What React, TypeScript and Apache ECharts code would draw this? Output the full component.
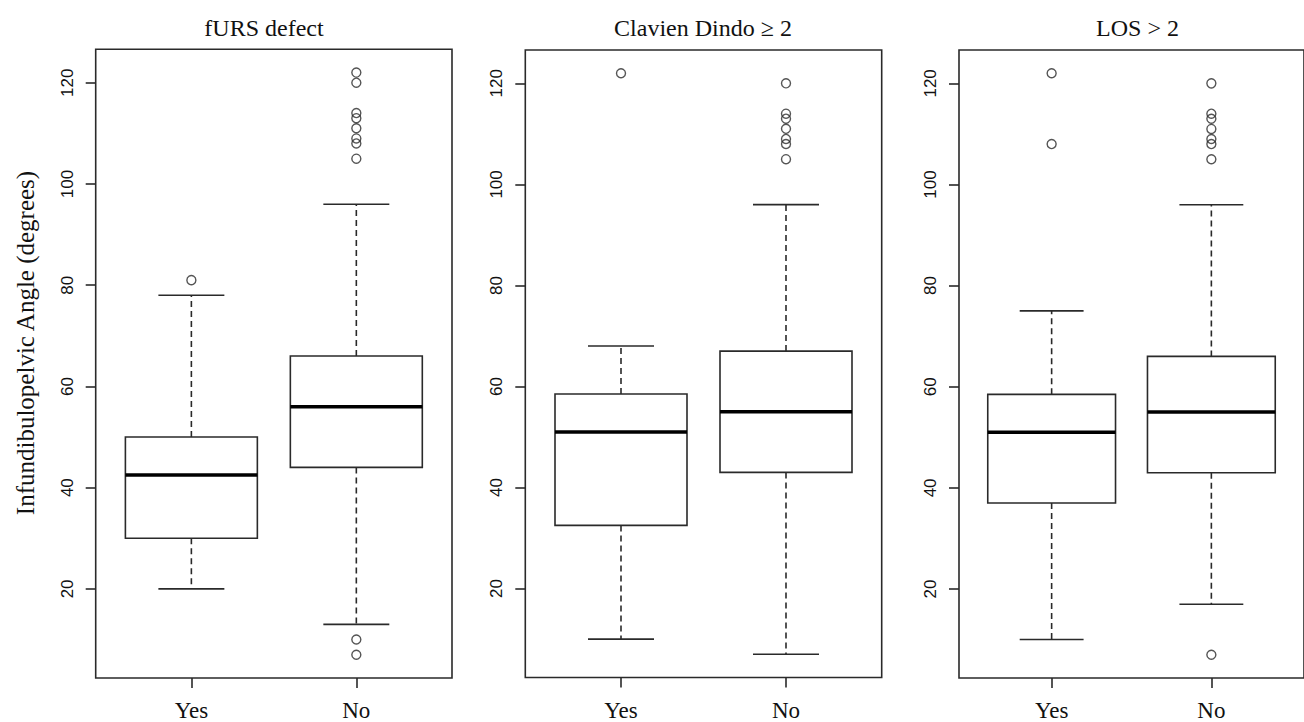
import React, { useEffect, useRef } from "react";
import * as echarts from "echarts";

const categories = ["Yes", "No"];
const panelTitles = ["fURS defect", "Clavien Dindo \u2265 2", "LOS > 2"];
const yTicks = [20, 40, 60, 80, 100, 120];
const yAxisTitle = "Infundibulopelvic Angle (degrees)";

// [lowerWhisker, Q1, median, Q3, upperWhisker] for Yes, No
const fursBoxes = [
  [20, 30, 42.5, 50, 78],
  [13, 44, 56, 66, 96],
];
const fursOutliersYes = [81];
const fursOutliersNo = [122, 120, 114, 113, 111, 109, 108, 105, 10, 7];

const clavienBoxes = [
  [10, 32.5, 51, 58.5, 68],
  [7, 43, 55, 67, 96],
];
const clavienOutliersYes = [122];
const clavienOutliersNo = [120, 114, 113, 111, 109, 108, 105];

const losBoxes = [
  [10, 37, 51, 58.5, 75],
  [17, 43, 55, 66, 96],
];
const losOutliersYes = [122, 108];
const losOutliersNo = [120, 114, 113, 111, 109, 108, 105, 7];

const panels = [
  { boxes: fursBoxes, outYes: fursOutliersYes, outNo: fursOutliersNo },
  { boxes: clavienBoxes, outYes: clavienOutliersYes, outNo: clavienOutliersNo },
  { boxes: losBoxes, outYes: losOutliersYes, outNo: losOutliersNo },
];

const LINE = "#2a2a2a";
const TEXT = "#111";
const gridsPx = [
  { left: 95.7, top: 49.3, width: 356.3, height: 629 },
  { left: 525.3, top: 50, width: 356.4, height: 627.5 },
  { left: 959, top: 50, width: 356, height: 628.5 },
];
const titleX = [264, 703, 1137.5];

export default function App() {
  const ref = useRef<HTMLDivElement>(null);
  useEffect(() => {
    if (!ref.current) return;
    const chart = echarts.init(ref.current, undefined, { renderer: "svg" });

    const grid = gridsPx.map((g) => ({
      left: g.left,
      top: g.top,
      width: g.width,
      height: g.height,
      show: true,
      borderColor: LINE,
      borderWidth: 1.6,
      backgroundColor: "transparent",
      containLabel: false,
    }));

    const xAxis = gridsPx.map((_, i) => ({
      type: "value",
      gridIndex: i,
      min: 0.42,
      max: 2.58,
      axisLine: { show: false },
      splitLine: { show: false },
      axisTick: {
        show: true,
        length: 10,
        customValues: [1, 2],
        lineStyle: { color: LINE, width: 1.6 },
      },
      axisLabel: {
        customValues: [1, 2],
        formatter: (v: number) => categories[Math.round(v) - 1] || "",
        fontFamily: "Liberation Serif",
        fontSize: 23,
        color: TEXT,
        margin: 21,
      },
    }));

    const yAxis = gridsPx.map((_, i) => ({
      type: "value",
      gridIndex: i,
      min: 2.4,
      max: 126.6,
      axisLine: { show: false },
      splitLine: { show: false },
      axisTick: {
        show: true,
        length: 10,
        customValues: yTicks,
        lineStyle: { color: LINE, width: 1.6 },
      },
      axisLabel: {
        customValues: yTicks,
        rotate: 90,
        fontFamily: "Liberation Sans",
        fontSize: 17,
        color: TEXT,
        margin: 20,
      },
    }));

    const series: any[] = [];
    panels.forEach((p, i) => {
      series.push({
        type: "custom",
        xAxisIndex: i,
        yAxisIndex: i,
        encode: { x: 0, y: [1, 2, 3, 4, 5] },
        data: p.boxes.map((b, k) => [k + 1, ...b]),
        renderItem: (params: any, api: any) => {
          const x = api.value(0);
          const lo = api.value(1);
          const q1 = api.value(2);
          const med = api.value(3);
          const q3 = api.value(4);
          const hi = api.value(5);
          const [cx, yLo] = api.coord([x, lo]);
          const yQ1 = api.coord([x, q1])[1];
          const yMed = api.coord([x, med])[1];
          const yQ3 = api.coord([x, q3])[1];
          const yHi = api.coord([x, hi])[1];
          const bw = api.size([0.8, 0])[0];
          const cw = api.size([0.4, 0])[0];
          const lineStyle = { stroke: LINE, lineWidth: 1.6, fill: null };
          const dashStyle = { stroke: LINE, lineWidth: 1.6, lineDash: [6, 4], fill: null };
          return {
            type: "group",
            children: [
              { type: "line", shape: { x1: cx, y1: yQ3, x2: cx, y2: yHi }, style: dashStyle },
              { type: "line", shape: { x1: cx, y1: yQ1, x2: cx, y2: yLo }, style: dashStyle },
              { type: "line", shape: { x1: cx - cw / 2, y1: yHi, x2: cx + cw / 2, y2: yHi }, style: lineStyle },
              { type: "line", shape: { x1: cx - cw / 2, y1: yLo, x2: cx + cw / 2, y2: yLo }, style: lineStyle },
              {
                type: "rect",
                shape: { x: cx - bw / 2, y: yQ3, width: bw, height: yQ1 - yQ3 },
                style: { fill: "#fff", stroke: LINE, lineWidth: 1.6 },
              },
              {
                type: "line",
                shape: { x1: cx - bw / 2, y1: yMed, x2: cx + bw / 2, y2: yMed },
                style: { stroke: "#000", lineWidth: 3.5 },
              },
            ],
          };
        },
      });
      const pts = [
        ...p.outYes.map((v) => [1, v]),
        ...p.outNo.map((v) => [2, v]),
      ];
      series.push({
        type: "scatter",
        xAxisIndex: i,
        yAxisIndex: i,
        symbol: "circle",
        symbolSize: 9,
        itemStyle: { color: "transparent", borderColor: LINE, borderWidth: 1.4 },
        data: pts,
        z: 5,
      });
    });

    const graphic: any[] = panelTitles.map((t, i) => ({
      type: "text",
      x: titleX[i],
      y: 28,
      style: {
        text: t,
        font: "24px 'Liberation Serif'",
        fill: TEXT,
        textAlign: "center",
        textVerticalAlign: "middle",
        align: "center",
        verticalAlign: "middle",
      },
    }));
    graphic.push({
      type: "text",
      x: 25,
      y: 343,
      rotation: Math.PI / 2,
      style: {
        text: yAxisTitle,
        font: "25px 'Liberation Serif'",
        fill: TEXT,
        textAlign: "center",
        textVerticalAlign: "middle",
        align: "center",
        verticalAlign: "middle",
      },
    });

    chart.setOption({
      animation: false,
      backgroundColor: "#fff",
      grid,
      xAxis,
      yAxis,
      series,
      graphic,
    });
    return () => chart.dispose();
  }, []);
  return (
    <div
      ref={ref}
      style={{ position: "fixed", left: 0, top: 0, width: 1304, height: 722 }}
    />
  );
}
